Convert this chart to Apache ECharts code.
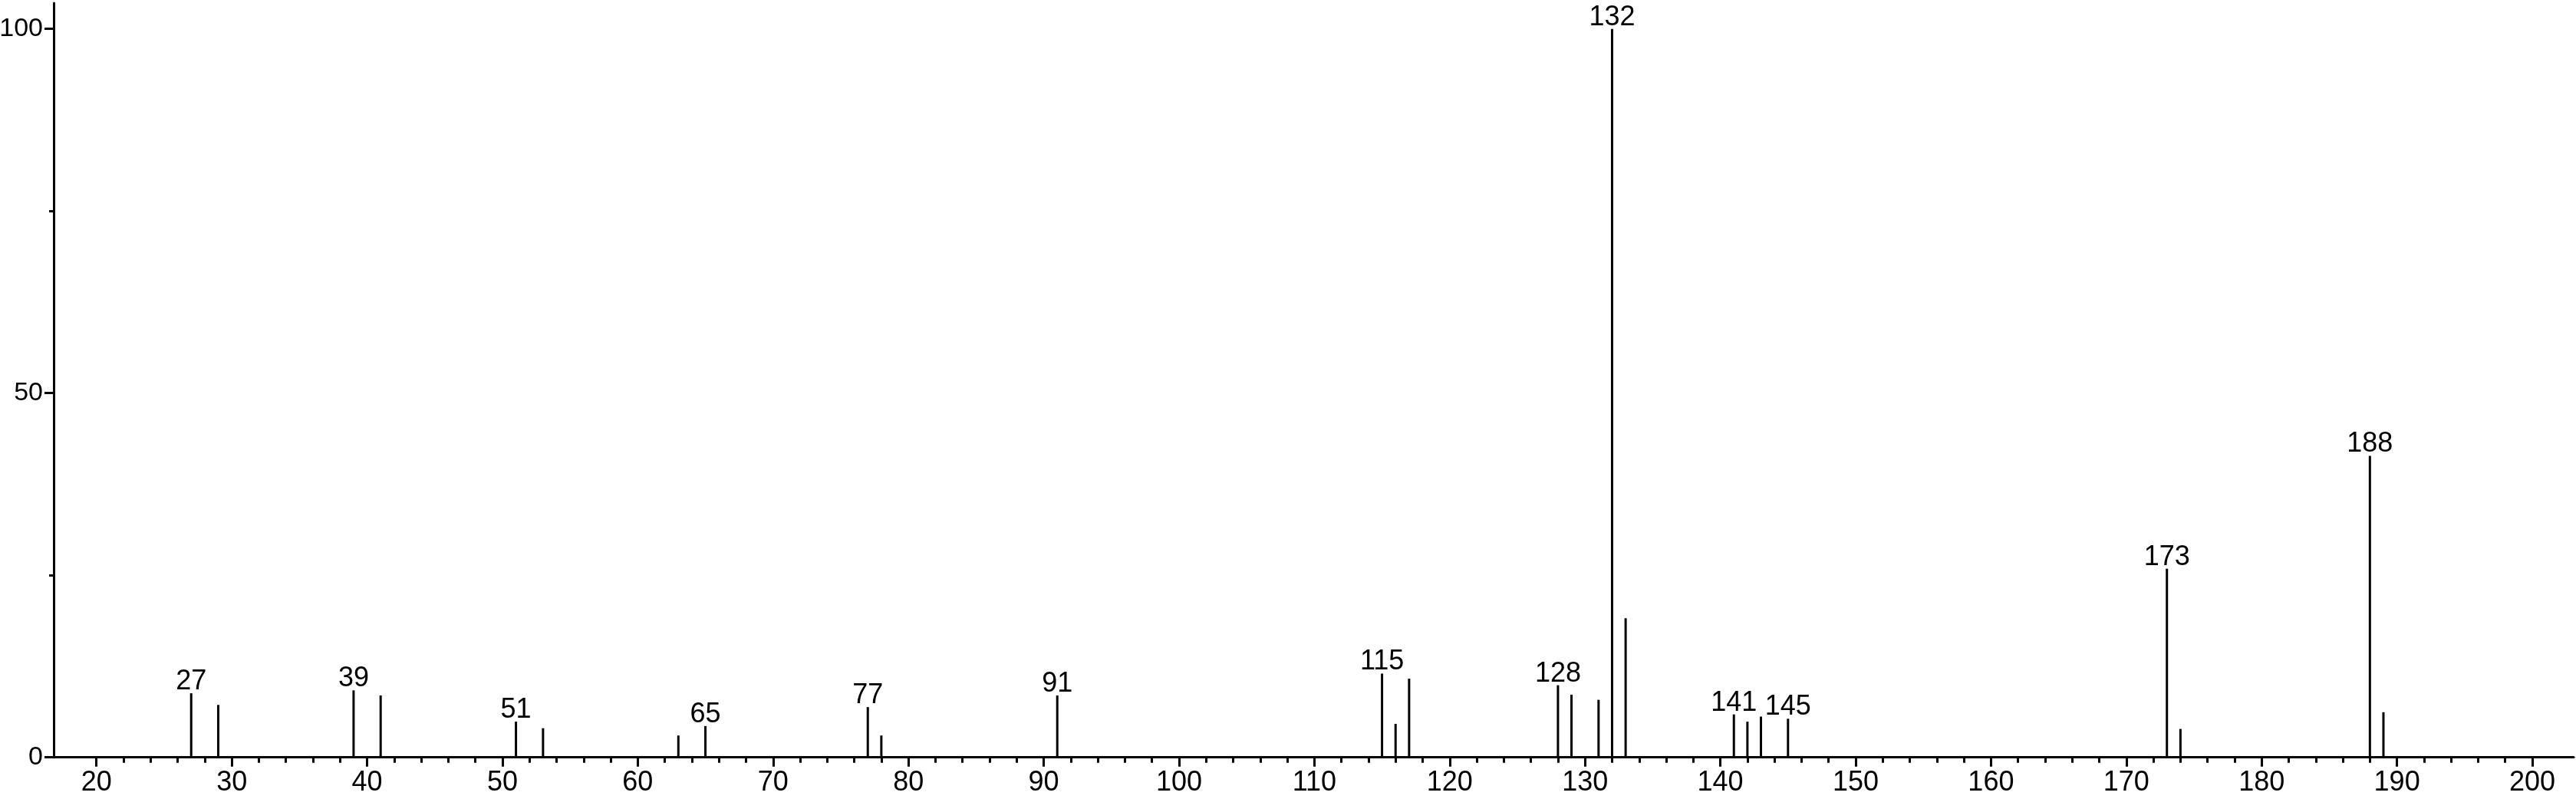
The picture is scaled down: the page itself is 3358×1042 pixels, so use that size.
<!DOCTYPE html>
<html>
<head>
<meta charset="utf-8">
<script src="https://cdn.jsdelivr.net/npm/echarts@6/dist/echarts.min.js"></script>
<style>
html,body{margin:0;padding:0;background:#fff;}
#chart{width:3358px;height:1042px;}
</style>
</head>
<body>
<div id="chart"></div>
<script>
// m/z values of the peaks
const mz = [27, 29, 39, 41, 51, 53, 63, 65, 77, 78, 91, 115, 116, 117, 128, 129, 131, 132, 133, 141, 142, 143, 145, 173, 174, 188, 189];
// relative intensities (%)
const intensity = [8.8, 7.2, 9.2, 8.5, 4.9, 4.0, 3.0, 4.3, 6.9, 3.0, 8.5, 11.5, 4.6, 10.8, 9.9, 8.6, 7.9, 100, 19.1, 5.9, 4.9, 5.6, 5.3, 25.9, 3.9, 41.4, 6.2];
// peaks carrying a label
const labeledPeaks = [27, 39, 51, 65, 77, 91, 115, 128, 132, 141, 145, 173, 188];
// axis tick labels
const xTickLabels = [20, 30, 40, 50, 60, 70, 80, 90, 100, 110, 120, 130, 140, 150, 160, 170, 180, 190, 200];
const xMinorTicks = [22,24,26,28,32,34,36,38,42,44,46,48,52,54,56,58,62,64,66,68,72,74,76,78,82,84,86,88,92,94,96,98,102,104,106,108,112,114,116,118,122,124,126,128,132,134,136,138,142,144,146,148,152,154,156,158,162,164,166,168,172,174,176,178,182,184,186,188,192,194,196,198];
const yTickLabels = [0, 50, 100];
const yMinorTicks = [25, 75];

const X_MIN = 16.84, X_MAX = 203.06, Y_MAX = 103.55;
const FONT = '"Liberation Sans", Arial, Helvetica, sans-serif';

const chart = echarts.init(document.getElementById('chart'), null, {renderer: 'canvas'});
const axisLine = {show: true, lineStyle: {color: '#000', width: 3}};
chart.setOption({
  animation: false,
  backgroundColor: '#fff',
  textStyle: {fontFamily: FONT, color: '#000'},
  grid: {left: 70, right: 3, top: 4, bottom: 54.3, containLabel: false, outerBoundsMode: 'none'},
  xAxis: [
    {
      type: 'value', min: X_MIN, max: X_MAX, position: 'bottom',
      axisLine: axisLine,
      axisTick: {show: true, customValues: xTickLabels, length: 12, lineStyle: {color: '#000', width: 3}},
      axisLabel: {show: true, customValues: xTickLabels, margin: 15, fontSize: 36, color: '#000', fontFamily: FONT},
      splitLine: {show: false}
    },
    {
      type: 'value', min: X_MIN, max: X_MAX, position: 'bottom', gridIndex: 0, offset: 0,
      axisLine: {show: false},
      axisTick: {show: true, customValues: xMinorTicks, length: 7, lineStyle: {color: '#000', width: 3}},
      axisLabel: {show: false},
      splitLine: {show: false}
    }
  ],
  yAxis: [
    {
      type: 'value', min: 0, max: Y_MAX, position: 'left',
      axisLine: axisLine,
      axisTick: {show: true, customValues: yTickLabels, length: 12, lineStyle: {color: '#000', width: 3}},
      axisLabel: {show: true, customValues: yTickLabels, margin: 14, fontSize: 34, color: '#000', fontFamily: FONT},
      splitLine: {show: false}
    },
    {
      type: 'value', min: 0, max: Y_MAX, position: 'left', gridIndex: 0, offset: 0,
      axisLine: {show: false},
      axisTick: {show: true, customValues: yMinorTicks, length: 6, lineStyle: {color: '#000', width: 3}},
      axisLabel: {show: false},
      splitLine: {show: false}
    }
  ],
  series: [{
    type: 'bar',
    xAxisIndex: 0, yAxisIndex: 0,
    barWidth: 3,
    itemStyle: {color: '#000'},
    data: mz.map((m, i) => [m, intensity[i]]),
    label: {
      show: true, position: 'top', distance: -3,
      fontSize: 36, color: '#000', fontFamily: FONT,
      formatter: p => labeledPeaks.includes(p.value[0]) ? String(p.value[0]) : ''
    }
  }]
});
</script>
</body>
</html>
